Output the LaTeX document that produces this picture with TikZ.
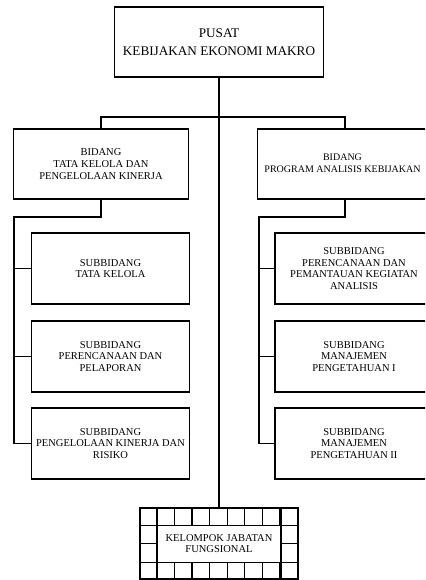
\documentclass[tikz,border=0pt]{standalone}
\usepackage{fontspec}
\setmainfont{Liberation Serif}
\usepackage{tikz}
\usetikzlibrary{positioning,calc}

\begin{document}
\begin{tikzpicture}[
    x=1pt, y=-1pt,
    line width=1.3pt,
    font=\fontsize{10.5}{11.8}\selectfont,
    unit/.style={draw, align=center, inner sep=2pt},
    topbox/.style={unit, minimum width=209pt, minimum height=70pt, font=\fontsize{13.2}{18}\selectfont},
    bidbox/.style={unit, minimum width=175pt, minimum height=70pt},
    subbox/.style={unit, minimum width=158pt, minimum height=71pt},
    link/.style={draw, line width=1.4pt}
]
\useasboundingbox (0,0) rectangle (425,580);
\clip (0,0) rectangle (425,580);

% pusat
\node[topbox] (pusat) at (219,42) {PUSAT\\KEBIJAKAN EKONOMI MAKRO};

% bidang
\node[bidbox] (bidkiri) at (101,164) {BIDANG\\TATA KELOLA DAN\\PENGELOLAAN KINERJA};
\node[bidbox] (bidkanan) at (345,164) {};
\node[align=center, font=\fontsize{10}{11.8}\selectfont] (bidkanantext) at (342.5,163) {BIDANG\\PROGRAM ANALISIS KEBIJAKAN};

% subbidang kiri
\node[subbox] (subkiri1) at (110.5,268.5) {SUBBIDANG\\TATA KELOLA};
\node[subbox] (subkiri2) at (110.5,356.5) {SUBBIDANG\\PERENCANAAN DAN\\PELAPORAN};
\node[subbox] (subkiri3) at (110.5,443.5) {SUBBIDANG\\PENGELOLAAN KINERJA DAN\\RISIKO};

% subbidang kanan
\node[subbox] (subkanan1) at (354,268.5) {SUBBIDANG\\PERENCANAAN DAN\\PEMANTAUAN KEGIATAN\\ANALISIS};
\node[subbox] (subkanan2) at (354,356.5) {SUBBIDANG\\MANAJEMEN\\PENGETAHUAN I};
\node[subbox] (subkanan3) at (354,443.5) {SUBBIDANG\\MANAJEMEN\\PENGETAHUAN II};

% jabatan fungsional
\node[unit, minimum width=158pt, minimum height=71pt] (fungsional) at (219,543.5) {KELOMPOK JABATAN\\FUNGSIONAL};
\foreach \i in {1,...,8}{
  \draw ([xshift=\i*17.56pt]fungsional.north west) -- ++(0,18);
  \draw ([xshift=\i*17.56pt]fungsional.south west) -- ++(0,-17);
}
\draw ([yshift=-18pt]fungsional.north west) -- ([yshift=-18pt]fungsional.north east);
\draw ([yshift=17pt]fungsional.south west) -- ([yshift=17pt]fungsional.south east);
\draw ([xshift=17.56pt]fungsional.north west) -- ([xshift=17.56pt]fungsional.south west);
\draw ([xshift=-17.56pt]fungsional.north east) -- ([xshift=-17.56pt]fungsional.south east);
\draw (fungsional.west) -- ++(17.56,0);
\draw (fungsional.east) -- ++(-17.56,0);

% garis
\coordinate (palang) at (219,117);
\coordinate (tulangkiri) at (14,217);
\coordinate (tulangkanan) at (259,217);
\draw[link] (pusat.south) -- (fungsional.north);
\draw[link] (bidkiri.north) |- (palang) -| (bidkanan.north);
\draw[link] (bidkiri.south) |- (tulangkiri) |- (subkiri3.west);
\draw[link] (subkiri1.west) -- (subkiri1.west -| tulangkiri);
\draw[link] (subkiri2.west) -- (subkiri2.west -| tulangkiri);
\draw[link] (bidkanan.south) |- (tulangkanan) |- (subkanan3.west);
\draw[link] (subkanan1.west) -- (subkanan1.west -| tulangkanan);
\draw[link] (subkanan2.west) -- (subkanan2.west -| tulangkanan);
\end{tikzpicture}
\end{document}
